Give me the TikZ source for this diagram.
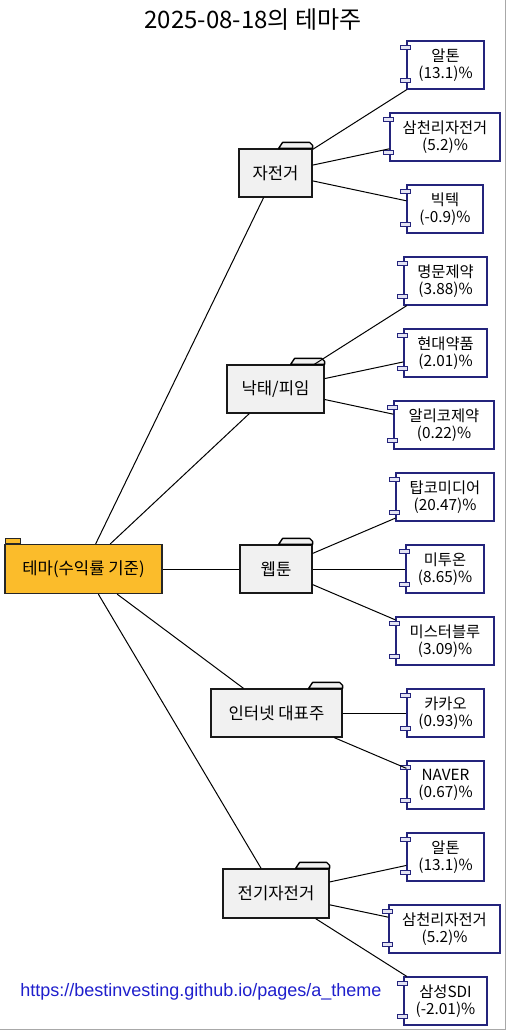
\documentclass[tikz,border=0pt]{standalone}
\usepackage{fontspec}
\setmainfont{Noto Sans CJK KR}
\newfontfamily\urlfont{Liberation Sans}
\usepackage{tikz}
\usetikzlibrary{calc}
\definecolor{themegold}{HTML}{FBBC2B}
\definecolor{foldergray}{HTML}{F1F1F1}
\definecolor{stocknavy}{HTML}{24247C}
\definecolor{pluglilac}{HTML}{E4E4F4}
\definecolor{linkblue}{HTML}{1F1FCC}
\definecolor{framegray}{HTML}{A8A8A8}
\def\px{0.75pt}

\begin{document}
\begin{tikzpicture}[x=0.75pt, y=-0.75pt,
        theme/.style={draw=black!85, line width=0.9pt, fill=themegold, inner sep=0pt,
            minimum width=157*\px, minimum height=49*\px, font=\fontsize{12.5}{14}\selectfont},
        folder/.style={draw=black!90, line width=0.9pt, fill=foldergray, inner sep=0pt,
            minimum height=48*\px, font=\fontsize{12.5}{14}\selectfont},
        stock/.style={draw=stocknavy, line width=0.9pt, fill=white, inner sep=0pt, align=center,
            minimum height=48*\px, font=\fontsize{11.5}{13}\selectfont},
        plug/.style={draw=stocknavy, line width=0.7pt, fill=pluglilac},
        foldertab/.style={draw=black, line width=1pt, fill=foldergray, line join=round},
        roottab/.style={draw=black!85, line width=0.7pt, fill=themegold},
        link/.style={black, line width=0.75pt}]
                \useasboundingbox (0,0) rectangle (507,1031);
                \draw[framegray, line width=1.2pt] (505.5,0) -- (505.5,1029.5) -- (0,1029.5);
                \node (title) at (253,20) {\fontsize{18}{21}\selectfont 2025-08-18의 테마주};
                \node[theme] (root) at (83.5,569) {테마(수익률 기준)};
                \node[folder, minimum width=73*\px] (f1) at (275.5,173) {자전거};
                \node[folder, minimum width=97*\px] (f2) at (275.5,389) {낙태/피임};
                \node[folder, minimum width=72*\px] (f3) at (276,569) {웹툰};
                \node[folder, minimum width=131*\px] (f4) at (276.5,713) {인터넷 대표주};
                \node[folder, minimum width=106*\px, minimum height=49*\px] (f5) at (276,893.5) {전기자전거};
                \node[stock, minimum width=77*\px] (c11) at (445.5,65) {알톤\\(13.1)\%};
                \node[stock, minimum width=110*\px] (c12) at (445,137) {삼천리자전거\\(5.2)\%};
                \node[stock, minimum width=76*\px] (c13) at (445,209) {빅텍\\(-0.9)\%};
                \node[stock, minimum width=83*\px] (c21) at (445.5,281) {명문제약\\(3.88)\%};
                \node[stock, minimum width=83*\px] (c22) at (445.5,353) {현대약품\\(2.01)\%};
                \node[stock, minimum width=100*\px] (c23) at (444,425) {알리코제약\\(0.22)\%};
                \node[stock, minimum width=98*\px] (c31) at (445,497) {탑코미디어\\(20.47)\%};
                \node[stock, minimum width=78*\px] (c32) at (445,569) {미투온\\(8.65)\%};
                \node[stock, minimum width=98*\px] (c33) at (445,641) {미스터블루\\(3.09)\%};
                \node[stock, minimum width=77*\px] (c41) at (445.5,713) {카카오\\(0.93)\%};
                \node[stock, minimum width=77*\px] (c42) at (445.5,785) {NAVER\\(0.67)\%};
                \node[stock, minimum width=77*\px] (c51) at (445.5,857) {알톤\\(13.1)\%};
                \node[stock, minimum width=111*\px] (c52) at (444.5,929) {삼천리자전거\\(5.2)\%};
                \node[stock, minimum width=83*\px] (c53) at (445.5,1001) {삼성SDI\\(-2.01)\%};
                \node[anchor=west, text=linkblue, inner sep=0pt] (url) at (20,992)
                    {\urlfont\fontsize{13.5}{16}\selectfont https://bestinvesting.github.io/pages/a\_theme};
                \filldraw[roottab] ($(root.north west)+(1,0)$) rectangle ++(15,-5);
                \foreach \f in {f1,f2,f3,f4,f5}
                    \filldraw[foldertab] ($(\f.north east)+(-34,0)$) -- ++(4,-6) -- ++(27,0)
                        -- ++(3,3) -- ($(\f.north east)$) -- cycle;
                \foreach \c in {c11,c12,c13,c21,c22,c23,c31,c32,c33,c41,c42,c51,c52,c53} {
                    \filldraw[plug] ($(\c.north west)+(-6,5)$) rectangle ++(10,4);
                    \filldraw[plug] ($(\c.south west)+(-6,-11)$) rectangle ++(10,4);
                }
                \foreach \f in {f1,f2,f3,f4,f5}
                    \draw[link] (root) -- (\f);
                \foreach \f/\c in {f1/c11,f1/c12,f1/c13,f2/c21,f2/c22,f2/c23,f3/c31,f3/c32,f3/c33,
                        f4/c41,f4/c42,f5/c51,f5/c52,f5/c53}
                    \draw[link] (\f) -- (\c);
            \end{tikzpicture}
\end{document}
